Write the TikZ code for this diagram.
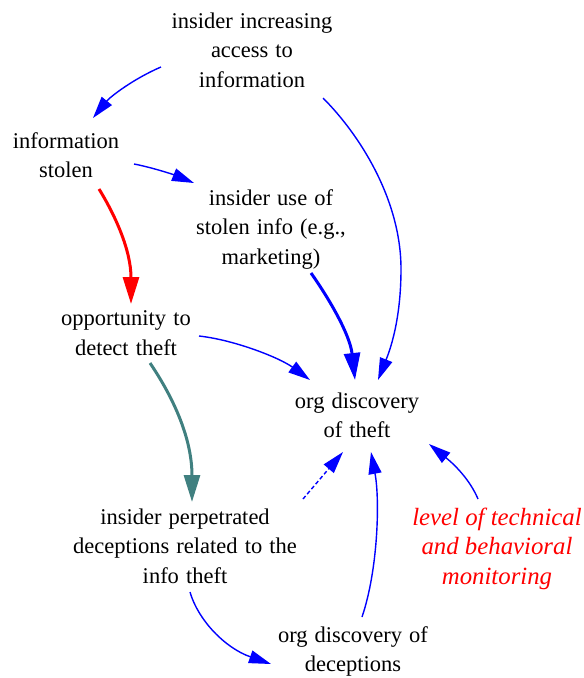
\documentclass[tikz,border=0pt]{standalone}
\usepackage{fontspec}
\setmainfont{Liberation Serif}[WordSpace=1.25]
\newfontfamily\monfont{Liberation Serif}
\usetikzlibrary{arrows.meta}
\definecolor{edgeblue}{RGB}{0,0,255}
\definecolor{edgeteal}{RGB}{64,128,128}
\definecolor{labelred}{RGB}{255,0,0}
\begin{document}
\begin{tikzpicture}[x=1pt,y=-1pt,
  lbl/.style={anchor=north, inner sep=0pt, outer sep=0pt, align=center,
    font=\fontsize{22.5}{29.5}\selectfont},
  mon/.style={lbl, text=labelred, font=\monfont\fontsize{24.8}{29.5}\selectfont\itshape},
  thinedge/.style={draw=edgeblue, line width=1.4pt, -{Triangle[length=22pt,width=13pt]}},
  thickedge/.style={line width=3pt, -{Triangle[length=27pt,width=16pt]}},
  dashededge/.style={thinedge, dash pattern=on 4pt off 2.5pt}
]
\useasboundingbox (0,0) rectangle (584,678);

\node[lbl] (top) at (252,12.6) {insider increasing\\access to\\information};
\node[lbl] (stolen) at (66,132.6) {information\\stolen};
\node[lbl] (use) at (271,189.6) {insider use of\\stolen info (e.g.,\\marketing)};
\node[lbl] (opp) at (126,310.6) {opportunity to\\detect theft};
\node[lbl] (theft) at (357,392.6) {org discovery\\of theft};
\node[lbl] (decep) at (185,508.6) {insider perpetrated\\deceptions related to the\\info theft};
\node[mon] (monitor) at (497,507.6) {level of technical\\and behavioral\\monitoring};
\node[lbl] (odecep) at (353,626.6) {org discovery of\\deceptions};

% top -> stolen
\draw[thinedge] ([shift={(-91,54.4)}]top.north) .. controls (133,79) and (110,97) .. ([shift={(27,-14.6)}]stolen.north);
% top -> theft
\draw[thinedge] ([shift={(71,85.4)}]top.north) .. controls (360,135) and (401,200) .. (401,269)
  .. controls (401,320) and (390,350) .. ([shift={(21,-12.6)}]theft.north);
% stolen -> use
\draw[thinedge] ([shift={(68,31.4)}]stolen.north) .. controls (150,167) and (172,174) .. ([shift={(-77,-6.6)}]use.north);
% stolen -> opp (red)
\draw[thickedge, draw=labelred] ([shift={(33,56.4)}]stolen.north) .. controls (115,215) and (131,250) .. ([shift={(5,-6.6)}]opp.north);
% use -> theft (thick blue)
\draw[thickedge, draw=edgeblue] ([shift={(40,83.4)}]use.north) .. controls (330,300) and (350,335) .. ([shift={(-2,-12.6)}]theft.north);
% opp -> theft
\draw[thinedge] ([shift={(73,25.4)}]opp.north) .. controls (235,340) and (280,358) .. ([shift={(-47,-12.6)}]theft.north);
% opp -> decep (teal)
\draw[thickedge, draw=edgeteal] ([shift={(24,52.4)}]opp.north) .. controls (175,400) and (192,440) .. ([shift={(7,-6.6)}]decep.north);
% decep -> theft (dashed)
\draw[dashededge] ([shift={(118,-9.6)}]decep.north) -- ([shift={(-14,59.4)}]theft.north);
% decep -> odecep
\draw[thinedge] ([shift={(5,83.4)}]decep.north) .. controls (198,620) and (225,648) .. ([shift={(-82,37.4)}]odecep.north);
% odecep -> theft
\draw[thinedge] ([shift={(9,-9.6)}]odecep.north) .. controls (378,570) and (380,500) .. ([shift={(14,59.4)}]theft.north);
% monitor -> theft
\draw[thinedge] ([shift={(-19,-8.6)}]monitor.north) .. controls (470,480) and (455,465) .. ([shift={(72,51.4)}]theft.north);
\end{tikzpicture}
\end{document}
